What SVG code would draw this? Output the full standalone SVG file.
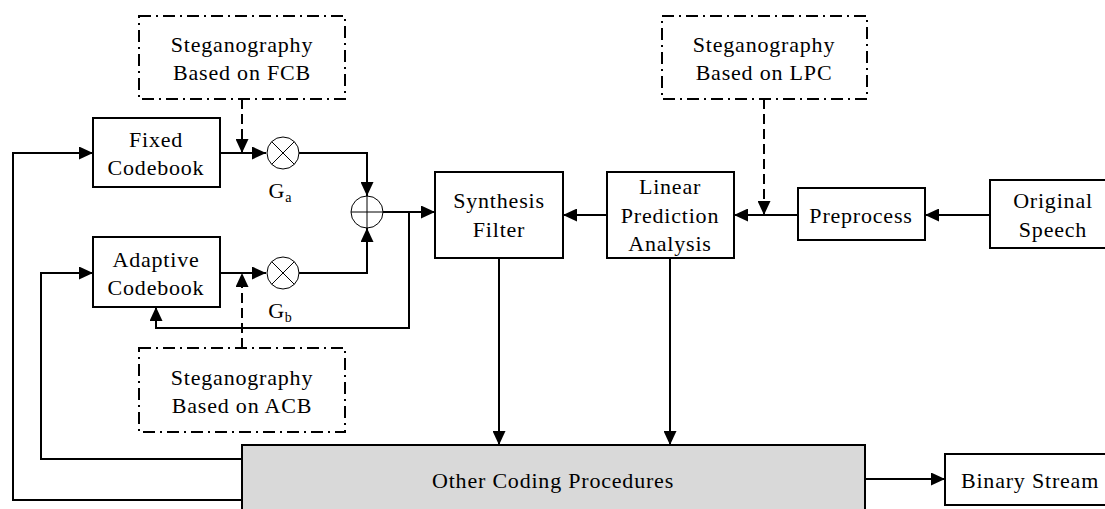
<svg xmlns="http://www.w3.org/2000/svg" width="1105" height="509" viewBox="0 0 1105 509">
  <style>
    .box { fill: #ffffff; stroke: #000; stroke-width: 2; }
    .grey { fill: #d9d9d9; stroke: #000; stroke-width: 2; }
    .dd { fill: none; stroke: #000; stroke-width: 2; stroke-dasharray: 12 5 2 5; }
    .op { fill: #fff; stroke: #000; stroke-width: 1; }
    .line { fill: none; stroke: #000; stroke-width: 2; }
    .dash { fill: none; stroke: #000; stroke-width: 2; stroke-dasharray: 10 5; }
    text { font-family: "Liberation Serif", "Times New Roman", serif; font-size: 22px; letter-spacing: 0.8px; fill: #000; text-anchor: middle; }
    .sub { font-size: 14px; letter-spacing: 0; }
  </style>
  <defs>
    <marker id="arrow" viewBox="0 0 14 13" refX="14" refY="6.5" markerWidth="14" markerHeight="13" markerUnits="userSpaceOnUse" orient="auto">
      <path d="M0,0 L14,6.5 L0,13 z" fill="#000"/>
    </marker>
  </defs>

  <!-- connectors -->
  <g id="connectors">
    <!-- outer feedback to fixed codebook -->
    <path class="line" d="M242,500 H13 V153 H93" marker-end="url(#arrow)"/>
    <!-- feedback to adaptive codebook -->
    <path class="line" d="M242,459 H41 V273 H93" marker-end="url(#arrow)"/>
    <!-- codebooks to multipliers -->
    <path class="line" d="M220,153 H266" marker-end="url(#arrow)"/>
    <path class="line" d="M220,273 H266" marker-end="url(#arrow)"/>
    <!-- multipliers to adder -->
    <path class="line" d="M299,153 H367 V196" marker-end="url(#arrow)"/>
    <path class="line" d="M299,273 H367 V228" marker-end="url(#arrow)"/>
    <!-- adder to synthesis filter -->
    <path class="line" d="M383,212 H435" marker-end="url(#arrow)"/>
    <!-- excitation feedback into adaptive codebook -->
    <path class="line" d="M409,212 V328 H156 V307" marker-end="url(#arrow)"/>
    <!-- steganography injection points -->
    <path class="dash" d="M242,99 V153" marker-end="url(#arrow)"/>
    <path class="dash" d="M242,348 V273" marker-end="url(#arrow)"/>
    <path class="dash" d="M764,99 V215" marker-end="url(#arrow)"/>
    <!-- analysis chain -->
    <path class="line" d="M990,215 H925" marker-end="url(#arrow)"/>
    <path class="line" d="M798,215 H734" marker-end="url(#arrow)"/>
    <path class="line" d="M607,215 H563" marker-end="url(#arrow)"/>
    <!-- into other coding procedures -->
    <path class="line" d="M499,258 V445" marker-end="url(#arrow)"/>
    <path class="line" d="M670,258 V445" marker-end="url(#arrow)"/>
    <!-- output -->
    <path class="line" d="M865,479 H945" marker-end="url(#arrow)"/>
  </g>

  <g id="steg-fcb">
    <rect class="dd" x="139" y="16" width="206" height="83"/>
    <text x="242" y="52">Steganography</text>
    <text x="242" y="80">Based on FCB</text>
  </g>

  <g id="steg-lpc">
    <rect class="dd" x="662" y="16" width="205" height="83"/>
    <text x="764" y="52">Steganography</text>
    <text x="764" y="80">Based on LPC</text>
  </g>

  <g id="steg-acb">
    <rect class="dd" x="139" y="348" width="206" height="84"/>
    <text x="242" y="385">Steganography</text>
    <text x="242" y="413">Based on ACB</text>
  </g>

  <g id="fixed-codebook">
    <rect class="box" x="93" y="118" width="127" height="69"/>
    <text x="156" y="147">Fixed</text>
    <text x="156" y="175">Codebook</text>
  </g>

  <g id="adaptive-codebook">
    <rect class="box" x="93" y="237" width="127" height="70"/>
    <text x="156" y="267">Adaptive</text>
    <text x="156" y="295">Codebook</text>
  </g>

  <g id="gain-a">
    <circle class="op" cx="283" cy="153" r="16"/>
    <path class="op" d="M271.7,141.7 L294.3,164.3 M294.3,141.7 L271.7,164.3"/>
    <text x="280" y="198">G<tspan class="sub" dy="4">a</tspan></text>
  </g>

  <g id="gain-b">
    <circle class="op" cx="283" cy="273" r="16"/>
    <path class="op" d="M271.7,261.7 L294.3,284.3 M294.3,261.7 L271.7,284.3"/>
    <text x="280" y="318">G<tspan class="sub" dy="4">b</tspan></text>
  </g>

  <g id="adder">
    <circle class="op" cx="367" cy="212" r="16"/>
    <path class="op" d="M351,212 H383 M367,196 V228"/>
  </g>

  <g id="synthesis-filter">
    <rect class="box" x="435" y="172" width="128" height="86"/>
    <text x="499" y="208">Synthesis</text>
    <text x="499" y="237">Filter</text>
  </g>

  <g id="lp-analysis">
    <rect class="box" x="607" y="172" width="127" height="86"/>
    <text x="670" y="194">Linear</text>
    <text x="670" y="223">Prediction</text>
    <text x="670" y="251">Analysis</text>
  </g>

  <g id="preprocess">
    <rect class="box" x="798" y="188" width="127" height="52"/>
    <text x="861" y="223">Preprocess</text>
  </g>

  <g id="original-speech">
    <rect class="box" x="990" y="180" width="126" height="68"/>
    <text x="1053" y="208">Original</text>
    <text x="1053" y="237">Speech</text>
  </g>

  <g id="other-coding">
    <rect class="grey" x="242" y="445" width="623" height="70"/>
    <text x="553" y="488">Other Coding Procedures</text>
  </g>

  <g id="binary-stream">
    <rect class="box" x="945" y="454" width="170" height="51"/>
    <text x="1030" y="488">Binary Stream</text>
  </g>
</svg>
